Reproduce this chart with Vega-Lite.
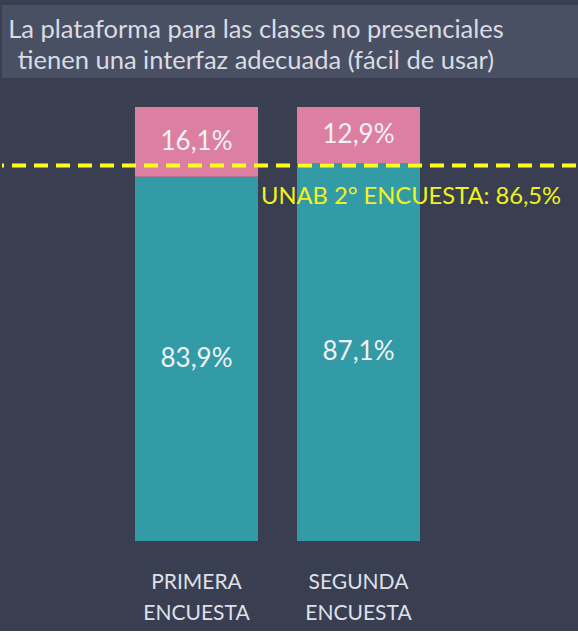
{
  "$schema": "https://vega.github.io/schema/vega-lite/v6.json",
  "background": "#393e50",
  "padding": {"top": 5, "left": 0, "right": 0, "bottom": 8},
  "spacing": 29,
  "config": {"view": {"stroke": null}, "font": "Lato"},
  "vconcat": [
    {
      "width": 578,
      "height": 73,
      "view": {"fill": "#4a5064", "stroke": null},
      "data": {"values": [
        {"linea": 1, "texto": "La plataforma para las clases no presenciales"},
        {"linea": 2, "texto": "tienen una interfaz adecuada (fácil de usar)"}
      ]},
      "mark": {"type": "text", "fontSize": 25.5, "color": "#d9dce3", "dx": -35},
      "encoding": {
        "y": {"field": "linea", "type": "ordinal", "axis": null, "scale": {"type": "point", "padding": 0.677, "align": 0.595}},
        "text": {"field": "texto"}
      }
    },
    {
      "width": 574,
      "height": 434,
      "layer": [
        {
          "data": {"name": "encuestas", "values": [
            {"encuesta": "PRIMERA ENCUESTA", "categoria": "Sí", "orden": 1, "valor": 0.839, "etiqueta": "83,9%"},
            {"encuesta": "PRIMERA ENCUESTA", "categoria": "No", "orden": 2, "valor": 0.161, "etiqueta": "16,1%"},
            {"encuesta": "SEGUNDA ENCUESTA", "categoria": "Sí", "orden": 1, "valor": 0.871, "etiqueta": "87,1%"},
            {"encuesta": "SEGUNDA ENCUESTA", "categoria": "No", "orden": 2, "valor": 0.129, "etiqueta": "12,9%"}
          ]},
          "layer": [
            {
              "mark": {"type": "bar"},
              "encoding": {
                "x": {"field": "encuesta", "type": "nominal",
                  "scale": {"paddingInner": 0.2407, "paddingOuter": 0.892, "align": 0.4602},
                  "axis": {"title": null, "labelAngle": 0, "domain": false, "ticks": false, "grid": false,
                    "labelFontSize": 21, "labelColor": "#dde1ea", "labelPadding": 30, "labelLineHeight": 31,
                    "labelExpr": "split(datum.label, ' ')"}},
                "y": {"field": "valor", "type": "quantitative", "stack": "zero", "scale": {"domain": [0, 1], "nice": false}, "axis": null},
                "color": {"field": "categoria", "type": "nominal", "scale": {"domain": ["Sí", "No"], "range": ["#339ba6", "#dc7fa0"]}, "legend": null},
                "order": {"field": "orden", "type": "quantitative"}
              }
            },
            {
              "mark": {"type": "text", "fontSize": 26, "color": "#f0f2f7", "baseline": "middle"},
              "encoding": {
                "x": {"field": "encuesta", "type": "nominal"},
                "y": {"field": "valor", "type": "quantitative", "stack": "zero", "bandPosition": 0.5},
                "detail": {"field": "categoria"},
                "order": {"field": "orden", "type": "quantitative"},
                "text": {"field": "etiqueta"}
              }
            }
          ]
        },
        {
          "data": {"values": [{"meta": 0.865, "texto": "UNAB 2° ENCUESTA: 86,5%"}]},
          "layer": [
            {
              "mark": {"type": "rule", "color": "#ffff1e", "strokeWidth": 4, "strokeDash": [14, 8]},
              "encoding": {"y": {"field": "meta", "type": "quantitative"}}
            },
            {
              "mark": {"type": "text", "color": "#f2f21e", "fontSize": 23.7, "align": "left", "baseline": "middle", "dx": 3, "dy": 31},
              "encoding": {
                "x": {"datum": "PRIMERA ENCUESTA", "type": "nominal", "bandPosition": 1},
                "y": {"field": "meta", "type": "quantitative"},
                "text": {"field": "texto"}
              }
            }
          ]
        }
      ]
    }
  ]
}
